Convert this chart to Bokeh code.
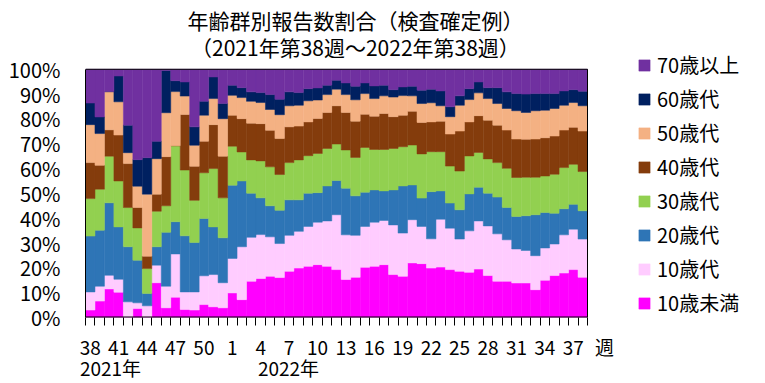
from bokeh.plotting import figure
from bokeh.models import FixedTicker, Legend, LegendItem, Label, Range1d, ColumnDataSource
from bokeh.embed import file_html
from bokeh.resources import INLINE

# ---- data (percent share of weekly reported cases) ----
weeks = ["38", "39", "40", "41", "42", "43", "44", "45", "46", "47", "48", "49", "50", "51", "52",
         "1", "2", "3", "4", "5", "6", "7", "8", "9", "10", "11", "12", "13", "14", "15", "16",
         "17", "18", "19", "20", "21", "22", "23", "24", "25", "26", "27", "28", "29", "30",
         "31", "32", "33", "34", "35", "36", "37", "38"]

under10 = [3.0, 6.6, 11.5, 10.2, 0.0, 3.6, 0.0, 14.0, 3.9, 8.2, 3.2, 3.0, 5.2, 4.3, 3.9,
           9.9, 7.2, 14.6, 15.7, 16.6, 16.1, 18.6, 19.9, 20.6, 21.3, 20.6, 19.3, 15.3, 16.2, 20.2, 20.6,
           21.3, 17.3, 16.6, 22.0, 21.7, 19.9, 20.3, 19.3, 18.6, 18.2, 19.5, 16.9, 14.6, 14.6,
           13.9, 13.9, 11.2, 15.0, 16.9, 17.9, 19.3, 16.2]
teens = [7.3, 6.0, 5.5, 5.2, 6.3, 2.3, 4.7, 7.1, 8.7, 17.4, 7.1, 7.3, 11.6, 13.0, 10.1,
         13.9, 21.3, 17.7, 17.7, 15.9, 13.7, 14.5, 14.8, 16.1, 17.1, 18.3, 22.1, 18.0, 16.9, 16.5, 17.8,
         17.8, 20.0, 17.4, 17.4, 15.0, 11.8, 19.3, 16.7, 13.0, 16.7, 19.4, 20.0, 19.1, 16.7,
         13.7, 13.1, 13.7, 13.0, 12.7, 15.4, 16.3, 15.4]
twenties = [22.5, 22.6, 29.2, 21.1, 22.2, 17.2, 5.0, 7.4, 21.7, 13.0, 22.6, 19.9, 23.1, 19.2, 18.1,
            29.5, 26.5, 17.8, 14.8, 12.5, 13.4, 14.3, 12.7, 13.4, 11.9, 14.1, 13.8, 18.8, 15.9, 13.8, 13.0,
            11.9, 14.1, 19.0, 14.0, 11.4, 19.0, 11.4, 10.1, 11.8, 14.9, 13.6, 13.2, 14.8, 13.0,
            13.1, 14.0, 16.5, 14.3, 12.4, 10.5, 10.0, 11.4]
thirties = [15.1, 16.5, 18.8, 18.5, 15.8, 13.0, 10.0, 14.3, 10.7, 30.6, 26.5, 17.0, 18.4, 23.5, 16.1,
            15.7, 11.7, 13.4, 14.9, 15.7, 14.4, 15.0, 16.1, 15.1, 15.8, 15.1, 14.7, 15.4, 15.5, 18.0, 16.3,
            16.7, 16.7, 15.8, 16.1, 17.8, 16.1, 15.8, 14.9, 15.6, 15.3, 14.0, 13.8, 13.9, 15.8,
            15.7, 15.5, 15.1, 14.7, 15.7, 16.6, 16.1, 15.8]
forties = [14.5, 9.6, 10.6, 18.5, 17.7, 8.2, 5.0, 6.9, 19.8, 0.0, 22.4, 13.7, 12.7, 17.7, 16.8,
           12.5, 13.4, 14.8, 15.0, 14.7, 14.5, 14.4, 13.6, 13.6, 14.1, 14.5, 15.4, 15.1, 14.6, 13.4, 13.4,
           14.5, 12.8, 12.7, 13.6, 12.7, 12.0, 12.3, 12.9, 16.1, 13.7, 14.8, 15.6, 15.1, 15.4,
           15.5, 15.3, 15.4, 15.4, 15.4, 15.1, 14.9, 16.3]
fifties = [15.3, 12.8, 15.4, 13.4, 4.4, 8.6, 25.0, 14.3, 17.7, 21.8, 7.4, 8.5, 10.5, 10.5, 15.1,
           8.0, 8.5, 8.8, 8.5, 8.4, 9.6, 8.5, 8.4, 8.5, 7.4, 7.2, 6.7, 7.2, 8.6, 8.3, 7.1,
           7.1, 7.9, 7.9, 6.2, 7.6, 7.7, 6.2, 7.0, 10.4, 9.0, 9.2, 8.7, 8.7, 8.7,
           11.4, 10.8, 11.4, 11.1, 11.1, 10.0, 10.0, 10.2]
sixties = [8.7, 6.7, 0.0, 10.4, 11.1, 10.7, 14.7, 7.0, 17.0, 4.4, 5.7, 7.4, 5.6, 8.7, 6.1,
           4.1, 4.0, 3.8, 4.0, 6.0, 6.2, 5.6, 5.1, 4.9, 4.9, 3.8, 3.6, 4.7, 5.5, 4.3, 5.1,
           4.3, 3.0, 3.5, 3.9, 5.4, 5.5, 6.0, 4.0, 3.8, 4.4, 4.4, 4.4, 6.4, 6.7,
           6.9, 7.4, 6.9, 6.7, 6.0, 5.8, 5.2, 5.9]
over70 = [13.6, 19.2, 9.0, 2.7, 22.5, 36.4, 35.6, 29.0, 0.5, 4.6, 5.1, 23.2, 12.9, 3.1, 13.8,
          6.4, 7.4, 9.1, 9.4, 10.2, 12.1, 9.1, 9.4, 7.8, 7.5, 6.4, 4.4, 5.5, 6.8, 5.5, 6.7,
          6.4, 8.2, 7.1, 6.8, 8.4, 8.0, 8.7, 15.1, 10.7, 7.8, 5.1, 7.4, 7.4, 9.1,
          9.8, 10.0, 9.8, 9.8, 9.8, 8.7, 8.2, 8.8]

groups = ["10歳未満", "10歳代", "20歳代", "30歳代", "40歳代", "50歳代", "60歳代", "70歳以上"]
colors = ["#FF00FF", "#FFCCFF", "#2E75B6", "#92D050", "#843C0C", "#F4B183", "#002060", "#7030A0"]
series = [under10, teens, twenties, thirties, forties, fifties, sixties, over70]
title_lines = ["年齢群別報告数割合（検査確定例）", "（2021年第38週～2022年第38週）"]
year_labels = {"2021年": 2.64, "2022年": 21.43}
week_unit = "週"

FONT = "Noto Sans CJK JP"

n = len(weeks)
totals = [sum(s[i] for s in series) for i in range(n)]
data = {"x": [i + 0.5 for i in range(n)]}
keys = []
for k, s in enumerate(series):
    key = f"g{k}"
    keys.append(key)
    data[key] = [s[i] * 100.0 / totals[i] for i in range(n)]
source = ColumnDataSource(data)

# frame spans from the plot-area left edge to the right edge of the canvas,
# and from the canvas top down to the 0% line; bars occupy [0, n] x [0, 100]
FRAME_BOTTOM = 318.0
TOP_100 = 69.0
px_per_week = 502.0 / n
px_per_pct = (FRAME_BOTTOM - TOP_100) / 100.0
x_end = 680.0 / px_per_week
y_end = FRAME_BOTTOM / px_per_pct

p = figure(width=765, height=383, output_backend="svg", toolbar_location=None, title=None,
           x_range=Range1d(0, x_end), y_range=Range1d(0, y_end),
           min_border_left=85, min_border_right=0, min_border_top=0, min_border_bottom=65)
p.background_fill_color = "white"
p.border_fill_color = "white"
p.outline_line_color = None
p.xgrid.visible = False
p.ygrid.visible = False

renderers = p.vbar_stack(keys, x="x", width=1.0, source=source,
                         fill_color=colors, line_color=colors, line_width=0.5)

# plot-area border (top, right, bottom)
p.segment(x0=[0, n, 0], y0=[100, 0, 0], x1=[n, n, n], y1=[100, 100, 0],
          line_color="black", line_width=[1, 1, 2])

# y axis
p.yaxis.ticker = FixedTicker(ticks=list(range(0, 101, 10)))
p.yaxis.major_label_overrides = {v: f"{v}%" for v in range(0, 101, 10)}
p.yaxis.bounds = (0, 100)
p.yaxis.major_tick_line_color = None
p.yaxis.minor_tick_line_color = None
p.yaxis.axis_line_color = "black"
p.yaxis.major_label_standoff = 19
p.yaxis.major_label_text_font = FONT
p.yaxis.major_label_text_font_size = "20px"
p.yaxis.major_label_text_color = "black"

# x axis: week labels every 3 weeks, year labels on a second line, unit at the end
label_idx = list(range(0, n, 3))
overrides = {i + 0.5: weeks[i] for i in label_idx}
for txt, pos in year_labels.items():
    overrides[pos] = " \n" + txt
unit_pos = 54.8
overrides[unit_pos] = week_unit
p.xaxis.ticker = FixedTicker(ticks=sorted(overrides.keys()), minor_ticks=list(range(0, n + 1)))
p.xaxis.major_label_overrides = overrides
p.xaxis.major_tick_in = 0
p.xaxis.major_tick_out = 0
p.xaxis.minor_tick_in = 0
p.xaxis.minor_tick_out = 8
p.xaxis.minor_tick_line_color = "black"
p.xaxis.axis_line_color = None
p.xaxis.major_label_standoff = 7
p.xaxis.major_label_text_font = FONT
p.xaxis.major_label_text_font_size = "19px"
p.xaxis.major_label_text_line_height = 0.78
p.xaxis.major_label_text_color = "black"

# title (two lines)
p.add_layout(Label(x=28.5, y=(FRAME_BOTTOM - 20) / px_per_pct, text=title_lines[0], text_align="center",
                   text_baseline="middle", text_font=FONT, text_font_size="21px", text_color="black"))
p.add_layout(Label(x=28.5, y=(FRAME_BOTTOM - 47) / px_per_pct, text=title_lines[1], text_align="center",
                   text_baseline="middle", text_font=FONT, text_font_size="21px", text_color="black"))

items = [LegendItem(label=groups[k], renderers=[renderers[k]]) for k in range(len(groups) - 1, -1, -1)]
legend = Legend(items=items, location=(552, 0), orientation="vertical",
                glyph_width=14, glyph_height=14, label_standoff=6, spacing=5,
                padding=0, margin=0, border_line_color=None, background_fill_alpha=0,
                label_text_font=FONT, label_text_font_size="20px", label_text_color="black")
p.add_layout(legend)

open("out.html", "w").write(file_html(p, INLINE))
